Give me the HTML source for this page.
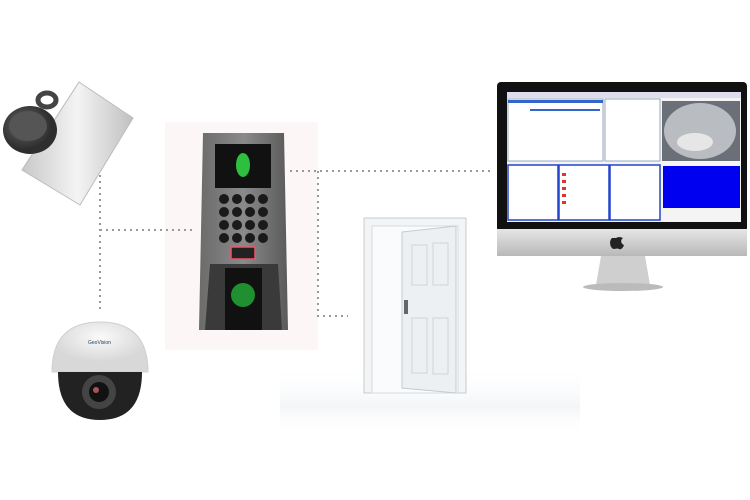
<!DOCTYPE html><html><head><style>
body{margin:0;width:750px;height:500px;background:#fff;overflow:hidden;position:relative;font-family:"Liberation Sans",sans-serif}
</style></head><body>
<svg width="750" height="500" style="position:absolute;left:0;top:0">
<defs>
<linearGradient id="rd" x1="0" x2="1"><stop offset="0" stop-color="#6b6b6b"/><stop offset=".5" stop-color="#8a8a8a"/><stop offset="1" stop-color="#5a5a5a"/></linearGradient>
<linearGradient id="cd" x1="0" x2="1"><stop offset="0" stop-color="#c8c8c8"/><stop offset=".5" stop-color="#f4f4f4"/><stop offset="1" stop-color="#c0c0c0"/></linearGradient>
<linearGradient id="chin" x1="0" y1="0" x2="0" y2="1"><stop offset="0" stop-color="#e6e6e6"/><stop offset="1" stop-color="#b8b8b8"/></linearGradient>
<linearGradient id="fl" x1="0" y1="0" x2="0" y2="1"><stop offset="0" stop-color="#fff" stop-opacity="0"/><stop offset=".6" stop-color="#f3f5f7"/><stop offset="1" stop-color="#fff" stop-opacity="0"/></linearGradient>
<radialGradient id="fob" cx=".4" cy=".4"><stop offset="0" stop-color="#666"/><stop offset="1" stop-color="#2e2e2e"/></radialGradient>
<radialGradient id="dome" cx=".5" cy=".3"><stop offset="0" stop-color="#fafafa"/><stop offset="1" stop-color="#d8d8d8"/></radialGradient>
</defs>
<rect x="280" y="365" width="300" height="70" fill="url(#fl)"/>
<rect x="165" y="122" width="153" height="228" fill="#fcf6f6"/>
<g stroke="#999" stroke-width="2" stroke-dasharray="2,4" fill="none">
<path d="M100 175V312M100 230H196"/>
<path d="M290 171H492M318 171V316H348"/>
</g>
<polygon points="79,82 133,118 80,205 22,170" fill="url(#cd)" stroke="#bbb"/>
<ellipse cx="47" cy="100" rx="9" ry="7" fill="none" stroke="#444" stroke-width="5"/>
<ellipse cx="30" cy="130" rx="27" ry="24" fill="url(#fob)"/>
<ellipse cx="28" cy="126" rx="19" ry="15" fill="#555"/>
<path d="M203 133H284L288 330H199Z" fill="url(#rd)"/>
<rect x="215" y="144" width="56" height="44" fill="#111"/>
<ellipse cx="243" cy="165" rx="7" ry="12" fill="#2fbf3f"/>
<g fill="#1a1a1a">
<circle cx="224" cy="199" r="5"/><circle cx="237" cy="199" r="5"/><circle cx="250" cy="199" r="5"/><circle cx="263" cy="199" r="5"/>
<circle cx="224" cy="212" r="5"/><circle cx="237" cy="212" r="5"/><circle cx="250" cy="212" r="5"/><circle cx="263" cy="212" r="5"/>
<circle cx="224" cy="225" r="5"/><circle cx="237" cy="225" r="5"/><circle cx="250" cy="225" r="5"/><circle cx="263" cy="225" r="5"/>
<circle cx="224" cy="238" r="5"/><circle cx="237" cy="238" r="5"/><circle cx="250" cy="238" r="5"/><circle cx="263" cy="238" r="5"/>
</g>
<rect x="231" y="247" width="24" height="12" fill="#222" stroke="#e56" stroke-width="1.5"/>
<path d="M210 264H278L282 330H205Z" fill="#3a3a3a"/>
<rect x="225" y="268" width="37" height="62" fill="#111"/>
<ellipse cx="243" cy="295" rx="12" ry="12" fill="#1f8f2f"/>
<rect x="364" y="218" width="102" height="175" fill="#f2f4f6" stroke="#c8ccd0"/>
<rect x="372" y="226" width="86" height="167" fill="#fafbfc" stroke="#d8dbde"/>
<polygon points="402,232 456,226 456,393 402,388" fill="#edf0f2" stroke="#c6cace"/>
<rect x="412" y="245" width="15" height="40" fill="none" stroke="#cfd3d7"/>
<rect x="433" y="243" width="15" height="42" fill="none" stroke="#cfd3d7"/>
<rect x="412" y="318" width="15" height="55" fill="none" stroke="#cfd3d7"/>
<rect x="433" y="318" width="15" height="56" fill="none" stroke="#cfd3d7"/>
<rect x="404" y="300" width="4" height="14" fill="#666"/>
<path d="M52 372Q52 322 100 322Q148 322 148 372Z" fill="url(#dome)" stroke="#d0d0d0"/>
<path d="M58 372H142Q142 420 100 420Q58 420 58 372Z" fill="#222"/>
<circle cx="99" cy="392" r="17" fill="#444"/><circle cx="99" cy="392" r="10" fill="#111"/><circle cx="96" cy="390" r="3" fill="#a55"/>
<text x="88" y="344" font-size="5" fill="#246">GeoVision</text>
<rect x="497" y="82" width="250" height="150" rx="4" fill="#111"/>
<rect x="497" y="229" width="250" height="27" fill="url(#chin)"/>
<path d="M616 238c3-2 7 0 7 0-3 2-2 6 1 7-1 3-3 5-5 4-2-1-3 0-5 0-3 0-6-7-2-11z" fill="#222"/>
<path d="M601 256H645L650 285H596Z" fill="#cfcfcf"/>
<ellipse cx="623" cy="287" rx="40" ry="4" fill="#bbb"/>
<rect x="507" y="92" width="234" height="130" fill="#f4f4f4"/>
<rect x="507" y="92" width="234" height="6" fill="#dde"/>
<rect x="508" y="99" width="95" height="62" fill="#fff" stroke="#9ab"/>
<rect x="508" y="100" width="95" height="3" fill="#36c"/>
<rect x="530" y="109" width="70" height="2" fill="#36c"/>
<rect x="605" y="99" width="55" height="62" fill="#fff" stroke="#9ab"/>
<rect x="662" y="101" width="78" height="60" fill="#6a6f78"/>
<ellipse cx="700" cy="131" rx="36" ry="28" fill="#b9bcc0"/>
<ellipse cx="695" cy="142" rx="18" ry="9" fill="#e6e6e6"/>
<rect x="508" y="165" width="50" height="55" fill="#fff" stroke="#24c" stroke-width="1.5"/>
<rect x="559" y="165" width="50" height="55" fill="#fff" stroke="#24c" stroke-width="1.5"/>
<rect x="610" y="165" width="50" height="55" fill="#fff" stroke="#24c" stroke-width="1.5"/>
<g fill="#d33"><rect x="562" y="173" width="4" height="3"/><rect x="562" y="180" width="4" height="3"/><rect x="562" y="187" width="4" height="3"/><rect x="562" y="194" width="4" height="3"/><rect x="562" y="201" width="4" height="3"/></g>
<rect x="663" y="166" width="77" height="42" fill="#0000f0"/>
</svg>
</body></html>
